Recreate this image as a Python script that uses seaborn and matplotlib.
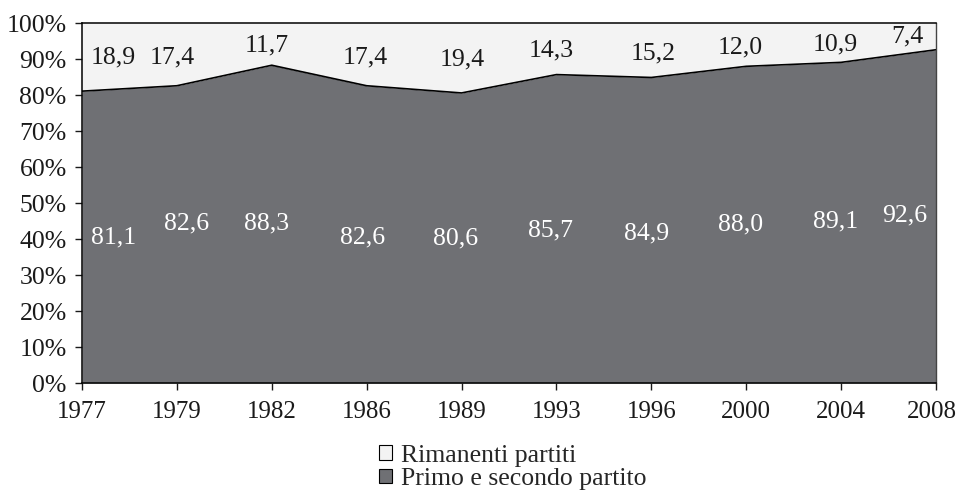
import matplotlib
matplotlib.use("Agg")
import matplotlib.pyplot as plt
import matplotlib.transforms as mtransforms
from matplotlib.patches import Patch
import numpy as np
import pandas as pd
import seaborn as sns

years = ["1977", "1979", "1982", "1986", "1989", "1993", "1996", "2000", "2004", "2008"]
primo_secondo = [81.1, 82.6, 88.3, 82.6, 80.6, 85.7, 84.9, 88.0, 89.1, 92.6]
rimanenti = [18.9, 17.4, 11.7, 17.4, 19.4, 14.3, 15.2, 12.0, 10.9, 7.4]
legend_labels = ["Rimanenti partiti", "Primo e secondo partito"]

# label placement (horizontal shift in category units, height in %)
top_dx = [0.33, -0.05, -0.05, -0.01, 0.01, -0.06, 0.02, -0.06, -0.06, -0.3]
top_y = [90.5, 90.5, 93.9, 90.5, 90.0, 92.5, 91.7, 93.3, 94.2, 96.3]
bot_dx = [0.33, 0.1, -0.05, -0.04, -0.06, -0.06, -0.05, -0.06, -0.06, -0.33]
bot_y = [40.5, 44.4, 44.4, 40.5, 40.3, 42.4, 41.6, 44.1, 45.0, 46.5]

dark = "#6f7074"
light = "#f3f3f3"
fs = 18.5

sns.set_theme(style="ticks")
plt.rcParams["font.family"] = ["Liberation Serif", "DejaVu Serif"]

df = pd.DataFrame({"anno": years, "primo": primo_secondo, "rim": rimanenti})
df["pos"] = np.arange(len(df))
df["totale"] = df["primo"] + df["rim"]

fig = plt.figure(figsize=(9.59, 4.92), dpi=100)
ax = fig.add_axes([0.0855, 0.2215, 0.8905, 0.7315])

ax.fill_between(df["pos"], 0, df["primo"], color=dark, linewidth=0, zorder=1)
ax.fill_between(df["pos"], df["primo"], df["totale"], color=light, linewidth=0, zorder=1)
sns.lineplot(data=df, x="pos", y="primo", ax=ax, color="black", linewidth=1.2, zorder=2)

for i in range(len(df)):
    ax.text(i + top_dx[i], top_y[i], f"{rimanenti[i]:.1f}".replace(".", ","),
            ha="center", va="center", fontsize=fs, color="#1a1a1a", zorder=3)
    ax.text(i + bot_dx[i], bot_y[i], f"{primo_secondo[i]:.1f}".replace(".", ","),
            ha="center", va="center", fontsize=fs, color="white", zorder=3)

ax.set_xlim(0, len(df) - 1)
ax.set_ylim(0, 100)
ax.set_xticks(df["pos"])
ax.set_xticklabels(years)
ax.set_yticks(np.arange(0, 101, 10))
ax.set_yticklabels([f"{v}%" for v in range(0, 101, 10)])
ax.set_xlabel("")
ax.set_ylabel("")
ax.tick_params(axis="both", labelsize=fs, colors="#1a1a1a", length=5, width=1, direction="out")
ax.tick_params(axis="x", labelsize=18, pad=8)
ax.tick_params(axis="y", pad=6)

# keep the last year label inside the figure edge
last = ax.get_xticklabels()[-1]
last.set_transform(last.get_transform() + mtransforms.ScaledTranslation(-4 / 100, 0, fig.dpi_scale_trans))

for side in ["left", "bottom", "top"]:
    ax.spines[side].set_color("black")
    ax.spines[side].set_linewidth(1.1)
ax.spines["right"].set_color("#444444")
ax.spines["right"].set_linewidth(1.0)

handles = [Patch(facecolor=light, edgecolor="black", linewidth=0.8),
           Patch(facecolor=dark, edgecolor="black", linewidth=0.8)]
fig.legend(handles, legend_labels, loc="center", bbox_to_anchor=(0.535, 0.050),
           frameon=False, fontsize=fs, handlelength=0.5, handleheight=0.5,
           handletextpad=0.35, labelspacing=0.05, borderpad=0)

fig.savefig("out.png", dpi=100)
